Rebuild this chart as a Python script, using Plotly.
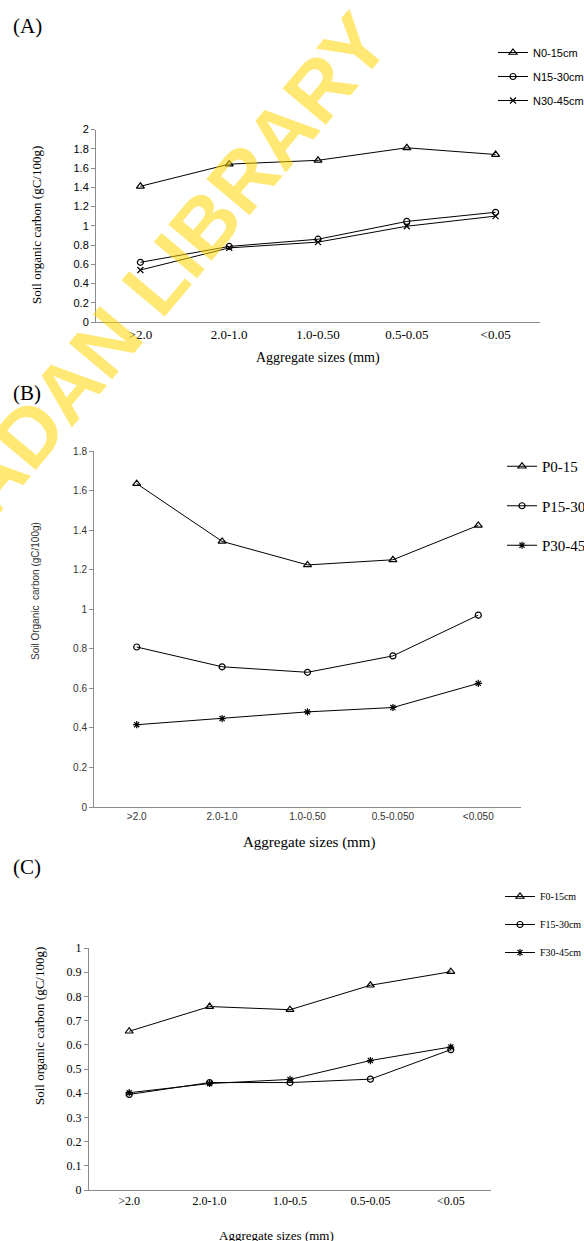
import plotly.graph_objects as go

W, H = 584, 1241

# ---------------- data ----------------
cats_a = [">2.0", "2.0-1.0", "1.0-0.50", "0.5-0.05", "<0.05"]
n0_15 = [1.41, 1.64, 1.68, 1.81, 1.74]
n15_30 = [0.62, 0.785, 0.86, 1.045, 1.14]
n30_45 = [0.54, 0.77, 0.83, 0.995, 1.10]

cats_b = [">2.0", "2.0-1.0", "1.0-0.50", "0.5-0.050", "<0.050"]
p0_15 = [1.635, 1.343, 1.224, 1.25, 1.424]
p15_30 = [0.809, 0.709, 0.681, 0.764, 0.970]
p30_45 = [0.416, 0.447, 0.481, 0.503, 0.625]

cats_c = [">2.0", "2.0-1.0", "1.0-0.5", "0.5-0.05", "<0.05"]
f0_15 = [0.656, 0.758, 0.745, 0.846, 0.902]
f15_30 = [0.395, 0.444, 0.444, 0.458, 0.580]
f30_45 = [0.402, 0.440, 0.457, 0.535, 0.591]

SANS = "Liberation Sans, Arial, sans-serif"
SERIF = "Liberation Serif, Times New Roman, serif"


def px_x(p):
    return p / W


def px_y(p):
    return 1 - p / H


fig = go.Figure()

panels = [
    ("x", "y", "legend", cats_a,
     [("N0-15cm", n0_15, "triangle-up-open", 7),
      ("N15-30cm", n15_30, "circle-open", 6),
      ("N30-45cm", n30_45, "x-thin-open", 6)]),
    ("x2", "y2", "legend2", cats_b,
     [("P0-15", p0_15, "triangle-up-open", 7),
      ("P15-30", p15_30, "circle-open", 6),
      ("P30-45", p30_45, "asterisk-open", 6)]),
    ("x3", "y3", "legend3", cats_c,
     [("F0-15cm", f0_15, "triangle-up-open", 7),
      ("F15-30cm", f15_30, "circle-open", 6),
      ("F30-45cm", f30_45, "asterisk-open", 6)]),
]

for xa, ya, lg, cats, series in panels:
    for i, (name, vals, sym, sz) in enumerate(series):
        fig.add_trace(go.Scatter(
            x=list(range(len(cats))), y=vals, name=name,
            mode="lines+markers",
            xaxis=xa, yaxis=ya, legend=lg,
            legendgroup=f"{lg}_{i}",
            line=dict(color="black", width=1),
            marker=dict(symbol=sym, size=sz, color="black",
                        line=dict(color="black", width=1.2)),
        ))

axis_line = "#8c8c8c"


def xaxis_cfg(cats, x0, x1, y_anchor, font):
    return dict(
        domain=[px_x(x0), px_x(x1)], anchor=y_anchor,
        range=[-0.5, len(cats) - 0.5],
        tickmode="array", tickvals=list(range(len(cats))), ticktext=cats,
        showline=True, linecolor=axis_line, linewidth=1,
        showgrid=False, zeroline=False, ticks="",
        tickfont=font,
    )


def yaxis_cfg(top_px, bot_px, rng, dtick, x_anchor, font):
    return dict(
        domain=[px_y(bot_px), px_y(top_px)], anchor=x_anchor,
        range=rng, dtick=dtick, tick0=0,
        showline=True, linecolor=axis_line, linewidth=1,
        showgrid=False, zeroline=False,
        ticks="outside", ticklen=4, tickcolor=axis_line,
        tickfont=font,
    )


fig.update_layout(
    width=W, height=H,
    margin=dict(l=0, r=0, t=0, b=0, autoexpand=False),
    paper_bgcolor="white", plot_bgcolor="white",
    showlegend=True,
    xaxis=xaxis_cfg(cats_a, 96, 540, "y", dict(family=SERIF, size=13, color="black")),
    yaxis=yaxis_cfg(129.5, 322, [0, 2], 0.2, "x", dict(family=SANS, size=11, color="black")),
    xaxis2=xaxis_cfg(cats_b, 94, 521, "y2", dict(family=SANS, size=10, color="#333333")),
    yaxis2=yaxis_cfg(451, 807, [0, 1.8], 0.2, "x2", dict(family=SANS, size=10, color="#333333")),
    xaxis3=xaxis_cfg(cats_c, 89, 491, "y3", dict(family=SERIF, size=12, color="black")),
    yaxis3=yaxis_cfg(948, 1190, [0, 1], 0.1, "x3", dict(family=SERIF, size=12, color="black")),
    legend=dict(x=px_x(493), y=px_y(38), xanchor="left", yanchor="top",
                font=dict(family=SANS, size=11, color="black"),
                tracegroupgap=5, bgcolor="rgba(0,0,0,0)"),
    legend2=dict(x=px_x(502), y=px_y(450), xanchor="left", yanchor="top",
                 font=dict(family=SERIF, size=15, color="black"),
                 tracegroupgap=17, bgcolor="rgba(0,0,0,0)"),
    legend3=dict(x=px_x(500), y=px_y(882), xanchor="left", yanchor="top",
                 font=dict(family=SERIF, size=10, color="black"),
                 tracegroupgap=9, bgcolor="rgba(0,0,0,0)"),
)

ann = []


def text(x, y, s, font, **kw):
    d = dict(x=px_x(x), y=px_y(y), xref="paper", yref="paper", text=s,
             showarrow=False, font=font)
    d.update(kw)
    ann.append(d)


# watermark
text(145, 295, "<b>IBADAN LIBRARY</b>",
     dict(family="Liberation Sans, Arial, sans-serif", size=82, color="rgba(255,214,0,0.55)"),
     textangle=-50, xanchor="center", yanchor="middle")

# panel letters
for lab, yy in [("(A)", 26), ("(B)", 393), ("(C)", 867)]:
    text(11, yy, lab, dict(family=SERIF, size=21, color="black"), xanchor="left", yanchor="middle")

# axis titles
text(36, 225, "Soil organic carbon (gC/100g)", dict(family=SERIF, size=13, color="black"),
     textangle=-90, xanchor="center", yanchor="middle")
text(318, 358, "Aggregate sizes (mm)", dict(family=SERIF, size=14, color="black"),
     xanchor="center", yanchor="middle")
text(35, 591, "Soil Organic  carbon (gC/100g)", dict(family=SANS, size=10, color="#333333"),
     textangle=-90, xanchor="center", yanchor="middle")
text(309, 842, "Aggregate sizes (mm)", dict(family=SERIF, size=15, color="black"),
     xanchor="center", yanchor="middle")
text(39, 1026, "Soil organic carbon (gC/100g)", dict(family=SERIF, size=13, color="black"),
     textangle=-90, xanchor="center", yanchor="middle")
text(276, 1235, "Aggregate sizes (mm)", dict(family=SERIF, size=13, color="black"),
     xanchor="center", yanchor="middle")

fig.update_layout(annotations=ann)

# remove the page's default body margin so the figure fills the window exactly
fig.write_html(
    "out.html",
    config={"displayModeBar": False},
    post_script="document.body.style.margin='0';document.body.style.overflow='hidden';",
)
